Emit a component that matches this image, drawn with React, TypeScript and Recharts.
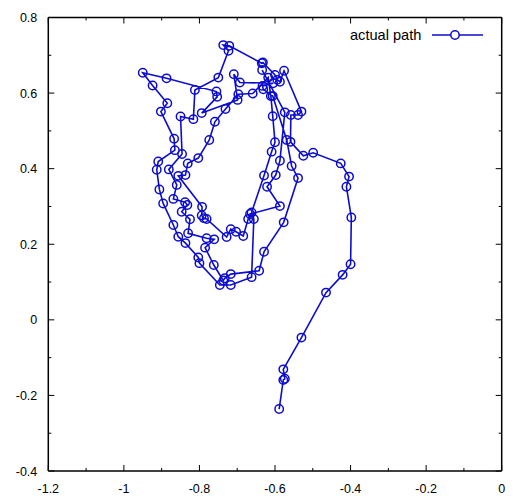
import React from "react";
import { ScatterChart, Scatter, XAxis, YAxis } from "recharts";

const pathX = [
  -0.589, -0.578, -0.574, -0.578, -0.53, -0.465, -0.421, -0.4, -0.398, -0.411, -0.404, -0.426, -0.499,
  -0.525, -0.559, -0.558, -0.539, -0.53, -0.576, -0.587, -0.594, -0.6, -0.632, -0.635, -0.721, -0.737,
  -0.723, -0.75, -0.812, -0.816, -0.85, -0.846, -0.881, -0.86, -0.869, -0.838, -0.832, -0.847, -0.825,
  -0.83, -0.781, -0.761, -0.785, -0.762, -0.737, -0.733, -0.717, -0.642, -0.629, -0.577, -0.539, -0.556,
  -0.569, -0.606, -0.631, -0.633, -0.605, -0.693, -0.709, -0.699, -0.794, -0.753, -0.755, -0.887, -0.95,
  -0.924, -0.885, -0.902, -0.867, -0.865, -0.909, -0.913, -0.906, -0.896, -0.869, -0.856, -0.837, -0.803,
  -0.8, -0.746, -0.717, -0.662, -0.656, -0.662, -0.629, -0.609, -0.6, -0.606, -0.611, -0.618, -0.659,
  -0.697, -0.731, -0.759, -0.774, -0.803, -0.831, -0.837, -0.856, -0.793, -0.794, -0.788, -0.781, -0.728,
  -0.717, -0.703, -0.684, -0.671, -0.666, -0.587, -0.621, -0.598, -0.587, -0.574, -0.634,
];
const pathY = [
  -0.236, -0.159, -0.156, -0.131, -0.047, 0.072, 0.119, 0.147, 0.271, 0.352, 0.379, 0.414, 0.442,
  0.434, 0.471, 0.542, 0.542, 0.551, 0.659, 0.63, 0.635, 0.648, 0.681, 0.679, 0.725, 0.727,
  0.712, 0.641, 0.608, 0.531, 0.538, 0.439, 0.398, 0.357, 0.32, 0.311, 0.304, 0.286, 0.266,
  0.229, 0.216, 0.213, 0.191, 0.145, 0.104, 0.11, 0.121, 0.13, 0.18, 0.258, 0.375, 0.407,
  0.476, 0.592, 0.61, 0.619, 0.626, 0.628, 0.65, 0.582, 0.547, 0.59, 0.604, 0.639, 0.654,
  0.62, 0.573, 0.551, 0.479, 0.449, 0.419, 0.397, 0.345, 0.308, 0.251, 0.22, 0.203, 0.165,
  0.15, 0.092, 0.092, 0.113, 0.267, 0.284, 0.382, 0.445, 0.47, 0.539, 0.592, 0.641, 0.599,
  0.597, 0.558, 0.524, 0.476, 0.428, 0.414, 0.383, 0.381, 0.299, 0.276, 0.269, 0.267, 0.219,
  0.24, 0.233, 0.222, 0.267, 0.28, 0.301, 0.352, 0.383, 0.421, 0.549, 0.661,
];

const xTicks = [-1.2, -1.1, -1.0, -0.9, -0.8, -0.7, -0.6, -0.5, -0.4, -0.3, -0.2, -0.1, 0];
const yTicks = [-0.4, -0.3, -0.2, -0.1, 0, 0.1, 0.2, 0.3, 0.4, 0.5, 0.6, 0.7, 0.8];
const xLabels: Record<string, string> = {
  "-1.2": "-1.2", "-1": "-1", "-0.8": "-0.8", "-0.6": "-0.6", "-0.4": "-0.4", "-0.2": "-0.2", "0": "0",
};
const yLabels: Record<string, string> = {
  "-0.4": "-0.4", "-0.2": "-0.2", "0": "0", "0.2": "0.2", "0.4": "0.4", "0.6": "0.6", "0.8": "0.8",
};
const seriesName = "actual path";

const data = pathX.map((x, i) => ({ x, y: pathY[i] }));

const BLUE = "#0c0cd0";
const FONT = "'Liberation Sans', Arial, Helvetica, sans-serif";
const MAJ = 6;
const MIN = 3;
const MARGIN = 4;

const key = (v: number) => String(Math.round(v * 10) / 10);

const BottomTick = (p: any) => {
  const v = p.payload.value;
  const lbl = xLabels[key(v)];
  const ay = p.y - MARGIN;
  return (
    <g>
      <line x1={p.x} y1={ay} x2={p.x} y2={ay - (lbl !== undefined ? MAJ : MIN)} stroke="#000" strokeWidth={1} />
      {lbl !== undefined && (
        <text x={p.x} y={ay + 22} textAnchor="middle" fontSize={12.5} fontFamily={FONT} fill="#000">
          {lbl}
        </text>
      )}
    </g>
  );
};
const TopTick = (p: any) => {
  const v = p.payload.value;
  const major = xLabels[key(v)] !== undefined;
  const ay = p.y + MARGIN;
  return <line x1={p.x} y1={ay} x2={p.x} y2={ay + (major ? MAJ : MIN)} stroke="#000" strokeWidth={1} />;
};
const LeftTick = (p: any) => {
  const v = p.payload.value;
  const lbl = yLabels[key(v)];
  const ax = p.x + MARGIN;
  return (
    <g>
      <line x1={ax} y1={p.y} x2={ax + (lbl !== undefined ? MAJ : MIN)} y2={p.y} stroke="#000" strokeWidth={1} />
      {lbl !== undefined && (
        <text x={ax - 11} y={p.y + 4.5} textAnchor="end" fontSize={12.5} fontFamily={FONT} fill="#000">
          {lbl}
        </text>
      )}
    </g>
  );
};
const RightTick = (p: any) => {
  const v = p.payload.value;
  const major = yLabels[key(v)] !== undefined;
  const ax = p.x - MARGIN;
  return <line x1={ax} y1={p.y} x2={ax - (major ? MAJ : MIN)} y2={p.y} stroke="#000" strokeWidth={1} />;
};

const Marker = (p: any) => (
  <circle cx={p.cx} cy={p.cy} r={4.2} fill="none" stroke={BLUE} strokeWidth={1.5} />
);

export default function App() {
  return (
    <div style={{ position: "relative", width: 505, height: 488 }}>
      <ScatterChart
        width={505}
        height={488}
        margin={{ top: 0, right: 0, left: 0, bottom: 0 }}
        style={{ background: "#fff" }}
      >
        <XAxis
          xAxisId="b"
          type="number"
          dataKey="x"
          domain={[-1.2, 0]}
          ticks={xTicks}
          interval={0}
          height={25}
          tickSize={0}
          tickMargin={MARGIN}
          tick={<BottomTick />}
          axisLine={{ stroke: "#000", strokeWidth: 1.5 }}
          allowDataOverflow
        />
        <XAxis
          xAxisId="t"
          orientation="top"
          type="number"
          dataKey="x"
          domain={[-1.2, 0]}
          ticks={xTicks}
          interval={0}
          height={9.5}
          tickSize={0}
          tickMargin={MARGIN}
          tick={<TopTick />}
          axisLine={{ stroke: "#000", strokeWidth: 1.5 }}
          allowDataOverflow
        />
        <YAxis
          yAxisId="l"
          type="number"
          dataKey="y"
          domain={[-0.4, 0.8]}
          ticks={yTicks}
          interval={0}
          width={40.3}
          tickSize={0}
          tickMargin={MARGIN}
          tick={<LeftTick />}
          axisLine={{ stroke: "#000", strokeWidth: 1.5 }}
          allowDataOverflow
        />
        <YAxis
          yAxisId="r"
          orientation="right"
          type="number"
          dataKey="y"
          domain={[-0.4, 0.8]}
          ticks={yTicks}
          interval={0}
          width={11.3}
          tickSize={0}
          tickMargin={MARGIN}
          tick={<RightTick />}
          axisLine={{ stroke: "#000", strokeWidth: 1.5 }}
          allowDataOverflow
        />
        <Scatter
          name={seriesName}
          xAxisId="b"
          yAxisId="l"
          data={data}
          line={{ stroke: BLUE, strokeWidth: 1.6 }}
          lineType="joint"
          shape={<Marker />}
          isAnimationActive={false}
        />
      </ScatterChart>
      <div
        style={{
          position: "absolute",
          top: 18,
          left: 342,
          display: "flex",
          alignItems: "center",
          fontFamily: FONT,
          fontSize: 14.6,
          color: "#000",
          lineHeight: "18px",
        }}
      >
        <span>{seriesName}</span>
        <svg width={53} height={12} style={{ marginLeft: 10 }}>
          <line x1={1} y1={6} x2={52} y2={6} stroke={BLUE} strokeWidth={1.6} />
          <circle cx={24} cy={6} r={4.2} fill="#fff" stroke={BLUE} strokeWidth={1.5} />
        </svg>
      </div>
    </div>
  );
}
